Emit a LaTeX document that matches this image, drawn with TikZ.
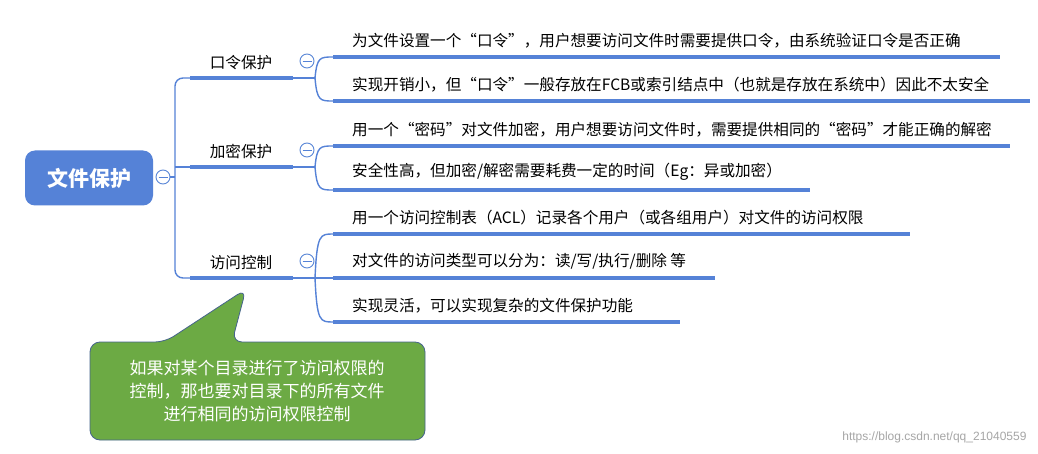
\documentclass[tikz,border=0pt]{standalone}
\usepackage{fontspec}
\newfontfamily\cjk{Noto Sans CJK SC}
\setmainfont{Liberation Sans}
\begin{document}
\begin{tikzpicture}[x=1pt,y=-1pt,
  ul/.style={line width=4.5pt, color={rgb,255:red,85;green,130;blue,215}},
  cc/.style={circle, draw={rgb,255:red,90;green,135;blue,215}, fill=white, line width=0.9pt, minimum size=14pt, inner sep=0pt},
  lt/.style={anchor=south west, inner sep=0pt, font=\cjk\fontsize{15.6}{17}\selectfont},
  bt/.style={anchor=south, inner sep=0pt, font=\cjk\fontsize{15.6}{17}\selectfont}]
\useasboundingbox (0,0) rectangle (1038,454);
\fill[white] (0,0) rectangle (1038,454);
\definecolor{mb}{RGB}{85,130,215}
% root
\node[fill=mb, rounded corners=10pt, minimum width=128pt, minimum height=55pt, text=white, font=\cjk\bfseries\fontsize{21}{23}\selectfont] (root) at (89,178) {文件保护};
\node[cc] (rc) at (163,177) {};
\draw[mb, line width=0.9pt] (158.5,177) -- (167.5,177);
% trunk
\draw[mb, line width=1.4pt, rounded corners=8pt] (190,78) -- (175,78) -- (175,278) -- (190,278);
\draw[mb, line width=1.4pt] (rc.east) -- (175,177);
\draw[mb, line width=1.4pt] (175,167) -- (190,167);
\foreach \y/\t/\n in {78/口令保护/a,167/加密保护/b,278/访问控制/c}{
  \draw[ul] (190,\y) -- (293,\y);
  \node[bt] (\n) at (241,\y-8) {\t};
  \node[cc] (\n c) at (307,\y-17) {};
  \draw[mb, line width=0.9pt] (302.5,\y-17) -- (311.5,\y-17);
}
% sub branches
\foreach \y/\ya/\yb in {78/57/101,167/146/190}{
  \draw[mb, line width=1.4pt] (293,\y) -- (315,\y);
  \draw[mb, line width=1.4pt] (315,\y) .. controls (317,\ya) and (320,\ya) .. (333,\ya);
  \draw[mb, line width=1.4pt] (315,\y) .. controls (317,\yb) and (320,\yb) .. (333,\yb);
}
\draw[mb, line width=1.4pt] (293,278) -- (333,278);
\draw[mb, line width=1.4pt] (315,278) .. controls (317,234) and (320,234) .. (333,234);
\draw[mb, line width=1.4pt] (315,278) .. controls (317,322) and (320,322) .. (333,322);
% leaves
\foreach \y/\e/\t/\n in {
 57/1000/{为文件设置一个“口令”，用户想要访问文件时需要提供口令，由系统验证口令是否正确}/l1,
 101/1030/{实现开销小，但“口令”一般存放在FCB或索引结点中（也就是存放在系统中）因此不太安全}/l2,
 146/1010/{用一个“密码”对文件加密，用户想要访问文件时，需要提供相同的“密码”才能正确的解密}/l3,
 190/810/{安全性高，但加密/解密需要耗费一定的时间（Eg：异或加密）}/l4,
 234/910/{用一个访问控制表（ACL）记录各个用户（或各组用户）对文件的访问权限}/l5,
 278/715/{对文件的访问类型可以分为：读/写/执行/删除 等}/l6,
 322/680/{实现灵活，可以实现复杂的文件保护功能}/l7}{
  \draw[ul] (333,\y) -- (\e,\y);
  \node[lt] (\n) at (352,\y-9) {\t};
}
% callout
\definecolor{cg}{RGB}{108,170,68}
\draw[fill=cg, draw={rgb,255:red,70;green,100;blue,140}, line width=0.8pt, rounded corners=10pt]
  (90,342) -- (165,342) -- (246,289) -- (232,342) -- (425,342) -- (425,440) -- (90,440) -- cycle;
\node[align=center, text=white, font=\cjk\fontsize{17}{23}\selectfont] (note) at (257,391) {如果对某个目录进行了访问权限的\\控制，那也要对目录下的所有文件\\进行相同的访问权限控制};
\node[anchor=east, text=black!35, font=\fontsize{12}{14}\selectfont] (wm) at (1030,437) {https://blog.csdn.net/qq\_21040559};
\end{tikzpicture}
\end{document}
